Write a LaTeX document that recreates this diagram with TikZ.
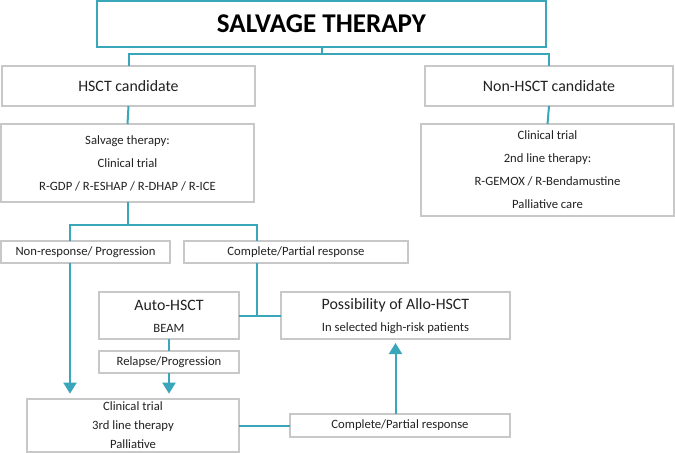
\documentclass[tikz,border=0pt]{standalone}
\usepackage{fontspec}
\setmainfont{Carlito}
\usetikzlibrary{arrows.meta}
\definecolor{teal1}{HTML}{3AA6B9}
\definecolor{boxgray}{HTML}{C8C8C8}
\definecolor{txt}{HTML}{222222}
\begin{document}
\begin{tikzpicture}[x=0.75pt,y=-0.75pt,
  bx/.style={draw=boxgray, line width=0.9pt, fill=white, inner sep=0pt, outer sep=0pt, align=center, text=txt},
  sz/.style 2 args={minimum width=#1*0.75pt, minimum height=#2*0.75pt},
  conn/.style={draw=teal1, line width=1.5pt},
  arr/.style={conn, -{Triangle[width=9.75pt,length=8.25pt]}},
  small/.style={font=\fontsize{9.5}{17.25}\selectfont},
  mid/.style={font=\fontsize{11.9}{14}\selectfont},
  lbl/.style={inner sep=0pt, text=txt}]
\useasboundingbox (0,0) rectangle (675,453);
% boxes
\node[bx, draw=teal1, line width=1.2pt, sz={449}{46}, text=black,
      font=\fontsize{20.3}{24}\selectfont\bfseries] (title) at (321.5,24) {SALVAGE THERAPY};
\node[bx, sz={253}{40}, mid] (hsct) at (128.5,86) {HSCT candidate};
\node[bx, sz={248}{40}, mid] (nonhsct) at (549,86) {Non-HSCT candidate};
\node[bx, sz={253}{78}, small] (salv) at (127.5,163) {Salvage therapy:\\Clinical trial\\R-GDP / R-ESHAP / R-DHAP / R-ICE};
\node[bx, sz={253}{92}, small] (nonbox) at (547.5,170) {Clinical trial\\2nd line therapy:\\R-GEMOX / R-Bendamustine\\Palliative care};
\node[bx, sz={169}{22}, small] (nonresp) at (85.5,252) {Non-response/ Progression};
\node[bx, sz={224}{22}, small] (cpr1) at (296,252) {Complete/Partial response};
\node[bx, sz={140}{47}] (auto) at (169,315.5) {};
\node[lbl, mid] (autot) at (169,305) {Auto-HSCT};
\node[lbl, small] (autob) at (169,328) {BEAM};
\node[bx, sz={229}{47}] (allo) at (395.5,315.5) {};
\node[lbl, mid] (allot) at (395.5,305) {Possibility of Allo-HSCT};
\node[lbl, small] (allob) at (395.5,328) {In selected high-risk patients};
\node[bx, sz={140}{22}, small] (relapse) at (169,362) {Relapse/Progression};
\node[bx, sz={212}{53}, font=\fontsize{9.5}{14.25}\selectfont] (bottom) at (133,425.5) {Clinical trial\\3rd line therapy\\Palliative};
\node[bx, sz={220}{23}, small] (cpr2) at (400,425.5) {Complete/Partial response};
% connectors
\coordinate (j1) at (321.5,54);
\coordinate (l1) at (70,225);
\coordinate (r1) at (257,225);
\draw[conn] (title.south) -- (j1);
\draw[conn] (hsct.north) |- (j1) -| (nonhsct.north);
\draw[conn] (hsct.south) -- (salv.north);
\draw[conn] (nonhsct.south) -- (nonbox.north);
\draw[conn] (salv.south) -- (salv.south |- l1);
\draw[conn] (nonresp.north -| l1) -- (l1) -- (r1) -- (cpr1.north -| r1);
\draw[arr, shorten >=4pt] (nonresp.south -| l1) -- (bottom.north -| l1);
\draw[conn] (cpr1.south -| r1) -- (r1 |- auto.east);
\draw[conn] (auto.east) -- (allo.west);
\draw[conn] (auto.south) -- (relapse.north);
\draw[arr, shorten >=4pt] (relapse.south) -- (bottom.north -| relapse.south);
\draw[conn] (bottom.east |- cpr2.west) -- (cpr2.west);
\draw[arr, shorten >=3pt] (cpr2.north -| allo.south) -- (allo.south);
\end{tikzpicture}
\end{document}
